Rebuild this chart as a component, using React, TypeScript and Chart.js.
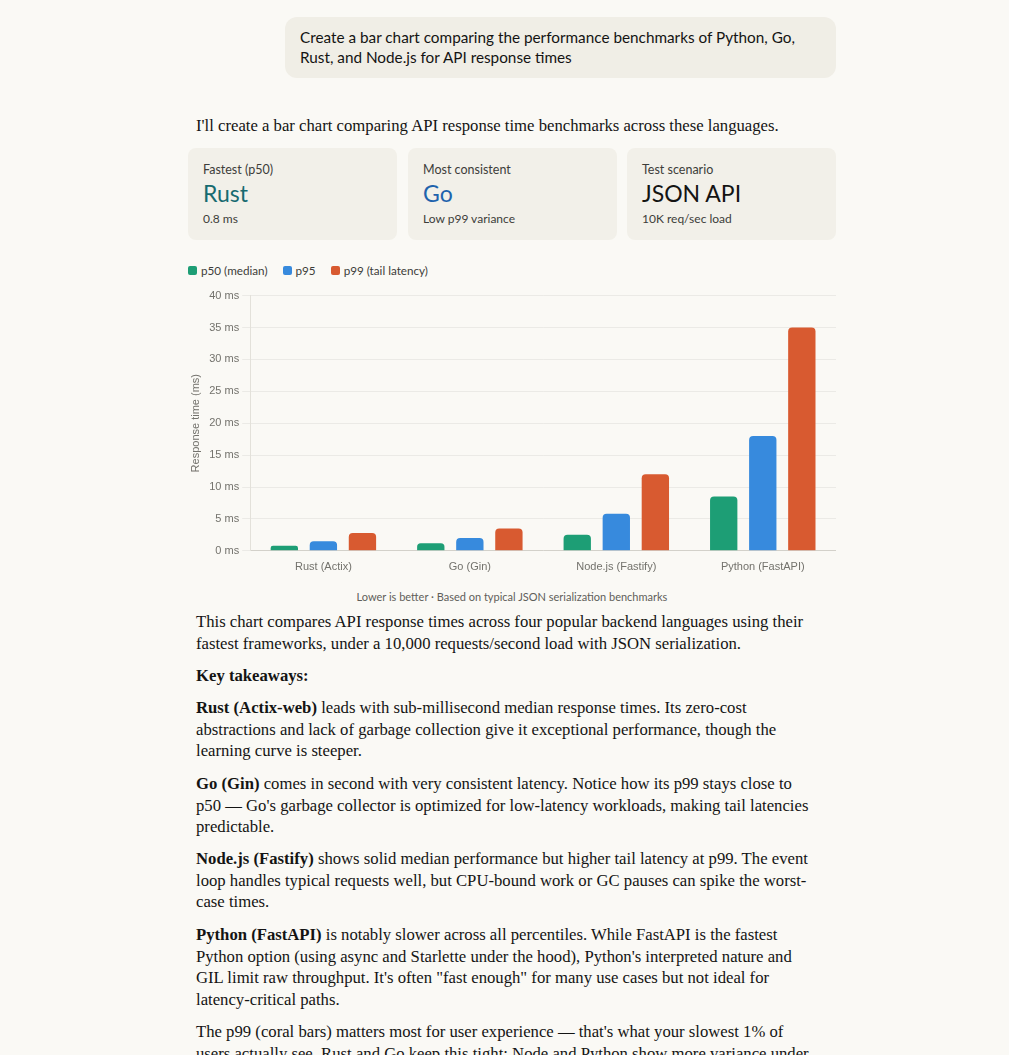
import React, { useEffect, useRef } from "react";
import { Chart, registerables } from "chart.js";

Chart.register(...registerables);

const categories = ["Rust (Actix)", "Go (Gin)", "Node.js (Fastify)", "Python (FastAPI)"];
const p50 = [0.8, 1.2, 2.5, 8.5];
const p95 = [1.5, 2.0, 5.8, 18];
const p99 = [2.8, 3.5, 12, 35];
const seriesNames = ["p50 (median)", "p95", "p99 (tail latency)"];
const seriesColors = ["#1D9E75", "#378ADD", "#D85A30"];
const yTicksMax = 40;
const yStep = 5;

const SANS = "'Liberation Sans', Arial, sans-serif";
const UI_SANS = "Lato, 'Noto Sans', sans-serif";
const SERIF = "'Liberation Serif', 'DejaVu Serif', serif";

function BenchChart() {
  const ref = useRef<HTMLCanvasElement | null>(null);
  useEffect(() => {
    if (!ref.current) return;
    const chart = new Chart(ref.current, {
      type: "bar",
      data: {
        labels: categories,
        datasets: [p50, p95, p99].map((d, i) => ({
          label: seriesNames[i],
          data: d,
          backgroundColor: seriesColors[i],
          borderRadius: 4,
          borderSkipped: "bottom",
          categoryPercentage: 0.8,
          barPercentage: 0.7,
        })),
      },
      options: {
        animation: false,
        responsive: true,
        maintainAspectRatio: false,
        plugins: { legend: { display: false }, tooltip: { enabled: false } },
        layout: { padding: { left: 0, right: 0, top: 0, bottom: 0 } },
        scales: {
          x: {
            grid: { display: false },
            border: { display: true, color: "#d3d1ca" },
            ticks: { color: "#73726c", font: { family: SANS, size: 11 }, padding: 2 },
          },
          y: {
            min: 0,
            max: yTicksMax,
            ticks: {
              stepSize: yStep,
              color: "#73726c",
              font: { family: SANS, size: 11 },
              callback: (v: any) => `${v} ms`,
            },
            grid: { color: "rgba(0,0,0,0.06)", tickLength: 8 },
            border: { display: true, color: "#e3e1da" },
            title: {
              display: true,
              text: "Response time (ms)",
              color: "#73726c",
              font: { family: SANS, size: 11 },
            },
          },
        },
      },
    });
    return () => chart.destroy();
  }, []);
  return <canvas ref={ref} />;
}

const abs = (left: number, top: number, extra: React.CSSProperties = {}): React.CSSProperties => ({
  position: "absolute",
  left,
  top,
  ...extra,
});

function Card({ left, label, value, valueColor, sub }: { left: number; label: string; value: string; valueColor: string; sub: string }) {
  return (
    <div style={abs(left, 148, { width: 209, height: 92, background: "#f2f0e9", borderRadius: 8 })}>
      <div style={abs(15, 14, { fontFamily: UI_SANS, fontSize: 12.5, color: "#3d3d3a", lineHeight: "16px", whiteSpace: "nowrap" })}>{label}</div>
      <div style={abs(15, 31, { fontFamily: UI_SANS, fontSize: 23, color: valueColor, lineHeight: "28px", whiteSpace: "nowrap" })}>{value}</div>
      <div style={abs(15, 63, { fontFamily: UI_SANS, fontSize: 12, color: "#3d3d3a", lineHeight: "16px", whiteSpace: "nowrap" })}>{sub}</div>
    </div>
  );
}

const para: React.CSSProperties = {
  fontFamily: SERIF,
  fontSize: 16.7,
  lineHeight: "21.5px",
  color: "#141413",
  whiteSpace: "nowrap",
};

export default function App() {
  return (
    <div style={{ position: "absolute", left: 0, top: 0, width: 1009, height: 1055, background: "#faf9f5", overflow: "hidden" }}>
      <div style={abs(285, 17, { width: 551, height: 61, background: "#f0eee6", borderRadius: 12 })}>
        <div style={abs(15, 10, { fontFamily: UI_SANS, fontSize: 15.3, lineHeight: "20px", color: "#141413", whiteSpace: "nowrap" })}>
          Create a bar chart comparing the performance benchmarks of Python, Go,
          <br />
          Rust, and Node.js for API response times
        </div>
      </div>

      <div style={abs(196, 115, para)}>I'll create a bar chart comparing API response time benchmarks across these languages.</div>

      <Card left={188} label="Fastest (p50)" value="Rust" valueColor="#176b70" sub="0.8 ms" />
      <Card left={408} label="Most consistent" value="Go" valueColor="#1f63ad" sub="Low p99 variance" />
      <Card left={627} label="Test scenario" value="JSON API" valueColor="#141413" sub="10K req/sec load" />

      <div style={abs(188, 262, { display: "flex", gap: 15, fontFamily: UI_SANS, fontSize: 11.7, color: "#3d3d3a", lineHeight: "16px" })}>
        {seriesNames.map((n, i) => (
          <span key={n} style={{ display: "flex", alignItems: "center", gap: 4 }}>
            <span style={{ width: 9, height: 9, borderRadius: 2, background: seriesColors[i], display: "inline-block" }} />
            {n}
          </span>
        ))}
      </div>

      <div style={abs(185, 286, { width: 651, height: 290 })}>
        <BenchChart />
      </div>

      <div style={abs(188, 589, { width: 648, textAlign: "center", fontFamily: UI_SANS, fontSize: 11, color: "#5f5e5a", lineHeight: "16px" })}>
        Lower is better · Based on typical JSON serialization benchmarks
      </div>

      <div style={abs(196, 611, para)}>
        This chart compares API response times across four popular backend languages using their
        <br />
        fastest frameworks, under a 10,000 requests/second load with JSON serialization.
      </div>
      <div style={abs(196, 665, { ...para, fontWeight: 700 })}>Key takeaways:</div>
      <div style={abs(196, 697, para)}>
        <b>Rust (Actix-web)</b> leads with sub-millisecond median response times. Its zero-cost
        <br />
        abstractions and lack of garbage collection give it exceptional performance, though the
        <br />
        learning curve is steeper.
      </div>
      <div style={abs(196, 773, para)}>
        <b>Go (Gin)</b> comes in second with very consistent latency. Notice how its p99 stays close to
        <br />
        p50 — Go's garbage collector is optimized for low-latency workloads, making tail latencies
        <br />
        predictable.
      </div>
      <div style={abs(196, 848, para)}>
        <b>Node.js (Fastify)</b> shows solid median performance but higher tail latency at p99. The event
        <br />
        loop handles typical requests well, but CPU-bound work or GC pauses can spike the worst-
        <br />
        case times.
      </div>
      <div style={abs(196, 924, para)}>
        <b>Python (FastAPI)</b> is notably slower across all percentiles. While FastAPI is the fastest
        <br />
        Python option (using async and Starlette under the hood), Python's interpreted nature and
        <br />
        GIL limit raw throughput. It's often "fast enough" for many use cases but not ideal for
        <br />
        latency-critical paths.
      </div>
      <div style={abs(196, 1021, para)}>
        The p99 (coral bars) matters most for user experience — that's what your slowest 1% of
        <br />
        users actually see. Rust and Go keep this tight; Node and Python show more variance under
      </div>
    </div>
  );
}
